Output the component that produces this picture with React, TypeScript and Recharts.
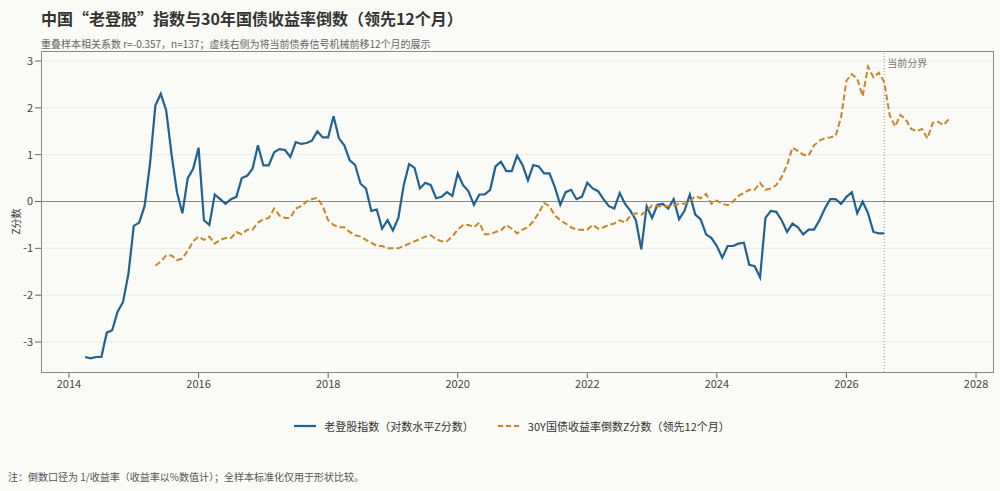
import { LineChart, Line, XAxis, YAxis, CartesianGrid, ReferenceLine } from 'recharts'

// 老登股指数 Z 分数，2014-04 起按月
const blueStart = 2014 + 3 / 12
const blueValues = [
  -3.32, -3.35, -3.32, -3.32, -2.8, -2.75, -2.35, -2.15,
  -1.55, -0.52, -0.45, -0.1, 0.8, 2.05, 2.3, 1.95, 1.0, 0.2, -0.25, 0.5,
  0.7, 1.15, -0.4, -0.5, 0.15, 0.05, -0.05, 0.05, 0.1, 0.5, 0.55, 0.7,
  1.2, 0.77, 0.77, 1.05, 1.12, 1.1, 0.95, 1.27, 1.23, 1.25, 1.3, 1.5,
  1.37, 1.37, 1.82, 1.35, 1.2, 0.88, 0.78, 0.38, 0.28, -0.2, -0.17, -0.58,
  -0.4, -0.62, -0.35, 0.35, 0.8, 0.72, 0.28, 0.4, 0.35, 0.07, 0.1, 0.2,
  0.12, 0.6, 0.35, 0.22, -0.07, 0.15, 0.15, 0.25, 0.75, 0.85, 0.65, 0.65,
  0.98, 0.78, 0.45, 0.78, 0.75, 0.6, 0.6, 0.3, -0.07, 0.2, 0.25, 0.05,
  0.1, 0.4, 0.28, 0.22, 0.05, -0.1, -0.15, 0.18, -0.05, -0.2, -0.4, -1.02,
  -0.1, -0.35, -0.07, -0.05, -0.15, 0.05, -0.38, -0.2, 0.15, -0.28, -0.38, -0.7,
  -0.78, -0.95, -1.2, -0.95, -0.95, -0.9, -0.88, -1.35, -1.38, -1.62, -0.35, -0.2,
  -0.22, -0.4, -0.65, -0.47, -0.55, -0.7, -0.6, -0.6, -0.4, -0.15, 0.05, 0.05,
  -0.05, 0.1, 0.2, -0.25, 0.0, -0.25, -0.65, -0.68, -0.68,
]

// 30Y 国债收益率倒数 Z 分数（领先 12 个月），2015-05 起按月
const orangeStart = 2015 + 4 / 12
const orangeValues = [
  -1.37, -1.28, -1.15, -1.15, -1.25, -1.22, -1.05, -0.85,
  -0.75, -0.82, -0.75, -0.9, -0.82, -0.78, -0.78, -0.65, -0.7, -0.6, -0.6, -0.45,
  -0.38, -0.35, -0.15, -0.3, -0.35, -0.35, -0.15, -0.1, 0.0, 0.05, 0.08, -0.1,
  -0.4, -0.5, -0.55, -0.55, -0.65, -0.72, -0.75, -0.82, -0.88, -0.95, -0.95, -1.0,
  -1.0, -1.0, -0.95, -0.9, -0.85, -0.8, -0.75, -0.72, -0.8, -0.85, -0.85, -0.75,
  -0.6, -0.5, -0.5, -0.55, -0.45, -0.7, -0.7, -0.65, -0.62, -0.5, -0.58, -0.68,
  -0.6, -0.55, -0.42, -0.25, -0.03, -0.1, -0.3, -0.4, -0.47, -0.55, -0.6, -0.6,
  -0.6, -0.5, -0.58, -0.55, -0.5, -0.47, -0.4, -0.45, -0.3, -0.25, -0.28, -0.2,
  -0.08, -0.1, -0.1, -0.1, -0.08, -0.05, -0.05, 0.0, 0.12, 0.07, 0.16, -0.05,
  0.02, -0.05, -0.08, 0.0, 0.12, 0.18, 0.25, 0.25, 0.4, 0.25, 0.28, 0.35,
  0.52, 0.78, 1.15, 1.08, 1.0, 0.98, 1.2, 1.3, 1.35, 1.37, 1.4, 1.8,
  2.58, 2.72, 2.62, 2.25, 2.88, 2.65, 2.75, 2.55, 1.85, 1.6, 1.85, 1.75,
  1.55, 1.5, 1.55, 1.35, 1.68, 1.7, 1.63, 1.77,
]

const xTicks = [2014, 2016, 2018, 2020, 2022, 2024, 2026, 2028]
const yTicks = [-3, -2, -1, 0, 1, 2, 3]
const boundary = 2026 + 7 / 12

const BLUE = '#23618e'
const ORANGE = '#c8862a'
const FONT = '"Noto Sans CJK SC", "Noto Sans", sans-serif'

const offset = Math.round((orangeStart - blueStart) * 12)
const rows: { x: number; blue?: number; orange?: number }[] = []
for (let i = 0; i < offset + orangeValues.length; i++) {
  const row: { x: number; blue?: number; orange?: number } = { x: blueStart + i / 12 }
  if (i < blueValues.length) row.blue = blueValues[i]
  const j = i - offset
  if (j >= 0 && j < orangeValues.length) row.orange = orangeValues[j]
  rows.push(row)
}

export default function App() {
  return (
    <div
      style={{
        position: 'absolute', left: 0, top: 0, width: 1000, height: 491,
        background: '#fafaf7', fontFamily: FONT, color: '#333',
      }}
    >
      <div style={{ position: 'absolute', left: 41, top: 6, fontSize: 16, fontWeight: 'bold', color: '#333' }}>
        中国“老登股”指数与30年国债收益率倒数（领先12个月）
      </div>
      <div style={{ position: 'absolute', left: 41, top: 36, fontSize: 10, color: '#666' }}>
        重叠样本相关系数 r=-0.357，n=137；虚线右侧为将当前债券信号机械前移12个月的展示
      </div>
      <LineChart width={1000} height={491} data={rows} margin={{ top: 51, right: 7, bottom: 94, left: 0 }}>
        <CartesianGrid vertical={false} stroke="#ebebeb" horizontalValues={yTicks} />
        <XAxis
          dataKey="x" type="number" domain={[2013.568, 2028.262]} ticks={xTicks}
          allowDataOverflow height={25}
          tick={{ fontSize: 11, fill: '#444' }} tickLine={{ stroke: '#666' }} axisLine={false}
        />
        <YAxis
          type="number" domain={[-3.64, 3.214]} ticks={yTicks} allowDataOverflow width={41}
          tick={{ fontSize: 11, fill: '#444' }} tickLine={{ stroke: '#666' }} axisLine={false}
        />
        <ReferenceLine y={0} stroke="#888" strokeWidth={1} />
        <ReferenceLine
          x={boundary} stroke="#999" strokeDasharray="1 2"
          label={{ value: '当前分界', position: 'insideTopRight', dx: 48, dy: 4, fontSize: 10, fill: '#777' }}
        />
        <Line dataKey="blue" stroke={BLUE} strokeWidth={2.2} dot={false} isAnimationActive={false} connectNulls={false} />
        <Line dataKey="orange" stroke={ORANGE} strokeWidth={2} strokeDasharray="6 3" dot={false} isAnimationActive={false} connectNulls={false} />
      </LineChart>
      <div style={{ position: 'absolute', left: 41, top: 51, width: 951, height: 320, border: '1px solid #888', pointerEvents: 'none' }} />
      <div style={{ position: 'absolute', left: 2, top: 214, fontSize: 10, transform: 'rotate(-90deg)', color: '#333' }}>Z分数</div>
      <div style={{ position: 'absolute', left: 12, width: 1000, top: 418, display: 'flex', justifyContent: 'center', gap: 24, fontSize: 11, color: '#333' }}>
        <span style={{ display: 'flex', alignItems: 'center', gap: 8 }}>
          <svg width={22} height={4}><line x1={0} y1={2} x2={22} y2={2} stroke={BLUE} strokeWidth={2.2} /></svg>
          老登股指数（对数水平Z分数）
        </span>
        <span style={{ display: 'flex', alignItems: 'center', gap: 8 }}>
          <svg width={22} height={4}><line x1={0} y1={2} x2={22} y2={2} stroke={ORANGE} strokeWidth={2} strokeDasharray="5 3" /></svg>
          30Y国债收益率倒数Z分数（领先12个月）
        </span>
      </div>
      <div style={{ position: 'absolute', left: 8, top: 469, fontSize: 10, color: '#555' }}>
        注：倒数口径为 1/收益率（收益率以%数值计）；全样本标准化仅用于形状比较。
      </div>
    </div>
  )
}
